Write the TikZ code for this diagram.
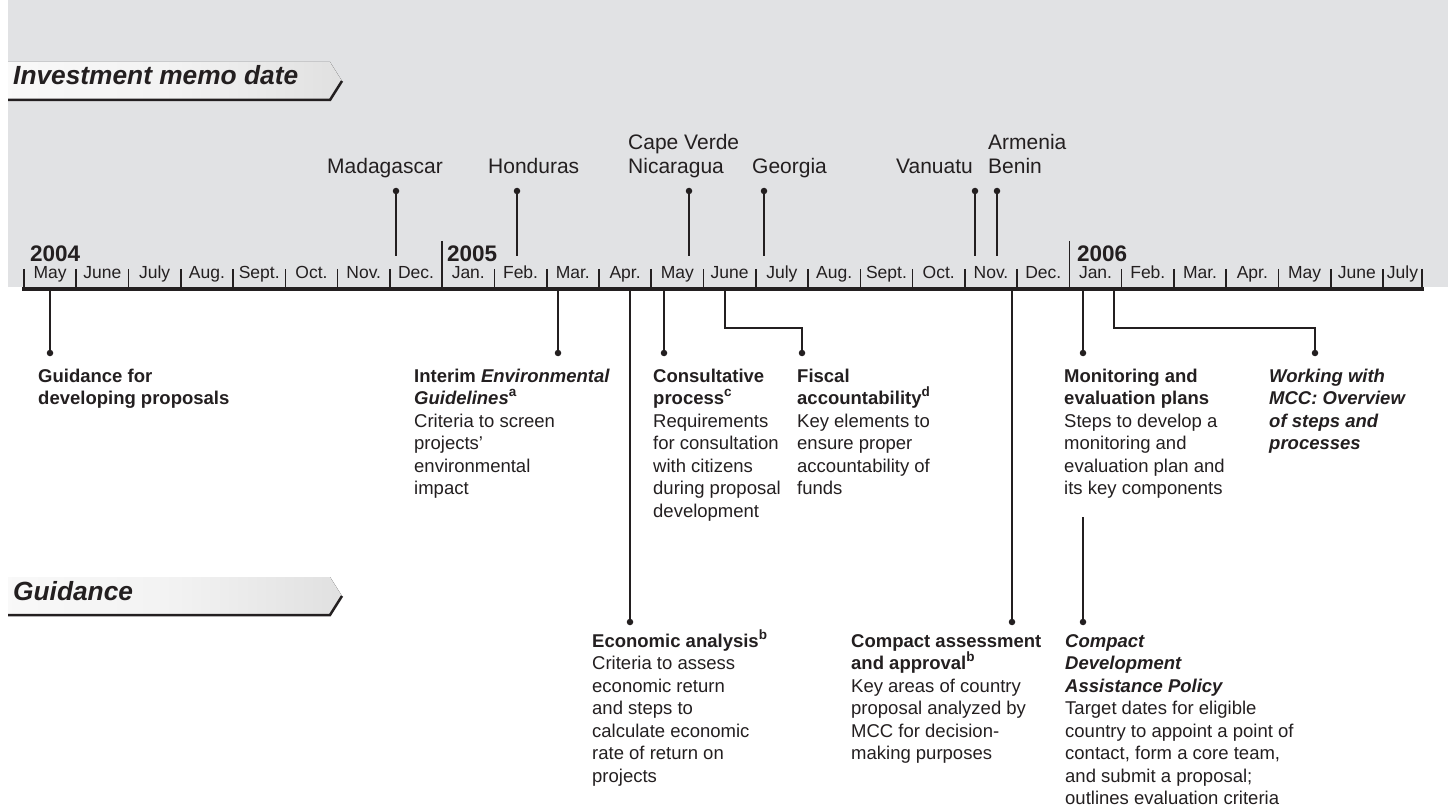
\documentclass[tikz,border=0pt]{standalone}
\usepackage{fontspec}
\setmainfont{Liberation Sans}
\definecolor{ink}{HTML}{231F20}
\definecolor{bggray}{HTML}{E1E2E4}
\pgfdeclarehorizontalshading{bannershade}{100bp}{color(0bp)=(white); color(50bp)=(white!95!black); color(82bp)=(white!86!black); color(100bp)=(white!64!black)}
\tikzset{
  dot/.style={circle, fill=ink, inner sep=0pt, minimum size=6.5pt},
  conn/.style={draw=ink, line width=1.3pt},
  tickmark/.style={draw=ink, line width=1.6pt},
  country/.style={anchor=north west, inner sep=0pt, align=left, text=ink, font=\fontsize{21}{24}\selectfont},
  month/.style={anchor=base, inner sep=0pt, text=ink, font=\fontsize{17.5}{21}\selectfont},
  yearlbl/.style={anchor=base west, inner sep=0pt, text=ink, font=\fontsize{22.5}{26}\selectfont\bfseries},
  desc/.style={anchor=north west, inner sep=0pt, align=left, text=ink, font=\fontsize{18.5}{22.5}\selectfont},
  bannertxt/.style={anchor=base west, inner sep=0pt, text=ink, font=\fontsize{26.3}{30}\selectfont\bfseries\itshape},
  bannershape/.style={shading=bannershade},
  bannerline/.style={draw=ink, line width=2.5pt},
}
\newcommand{\supmark}[1]{\smash{\raisebox{0.42em}{\fontsize{13.5}{13.5}\selectfont #1}}}
\begin{document}
\begin{tikzpicture}[x=1pt,y=-1pt]
\useasboundingbox (0,0) rectangle (1448,810);
\fill[white] (0,0) rectangle (1448,810);
\fill[bggray] (8,0) rectangle (1448,287);

% banners
\fill[bannershape] (8,62) -- (330,62) -- (342,81) -- (330,100) -- (8,100) -- cycle;
\draw[bannerline] (8,100) -- (330,100) -- (342,81);
\node[bannertxt] (invTxt) at (13,85) {Investment memo date};
\fill[bannershape] (8,577) -- (330,577) -- (342,596) -- (330,615) -- (8,615) -- cycle;
\draw[bannerline] (8,615) -- (330,615) -- (342,596);
\node[bannertxt] (guiTxt) at (13,600) {Guidance};

% axis
\foreach \k in {0,...,26} \draw[tickmark] (24+52.27*\k,269) -- (24+52.27*\k,289);
\draw[tickmark] (1422,269) -- (1422,289);
\draw[tickmark] (442.2,241) -- (442.2,289);
\draw[tickmark] (1069.4,241) -- (1069.4,289);
\draw[draw=ink, line width=4pt] (22,289) -- (1423.5,289);

\foreach \m [count=\i from 0] in {May,June,July,Aug.,Sept.,Oct.,Nov.,Dec.,Jan.,Feb.,Mar.,Apr.,May,June,July,Aug.,Sept.,Oct.,Nov.,Dec.,Jan.,Feb.,Mar.,Apr.,May,June}
  \node[month] (m\i) at (24+52.27*\i+26.135,279) {\m};
\node[month] (m26) at (1402.5,279) {July};

\node[yearlbl] (y2004) at (30,262) {2004};
\node[yearlbl] (y2005) at (447,262) {2005};
\node[yearlbl] (y2006) at (1077,262) {2006};

% countries
\node[country] (madL) at (327,156.2) {\strut Madagascar};
\node[country] (honL) at (488,156.2) {\strut Honduras};
\node[country] (cvL) at (628,132.2) {\strut Cape Verde\\Nicaragua};
\node[country] (geoL) at (752,156.2) {\strut Georgia};
\node[country,anchor=north east] (vanL) at (973,156.2) {\strut Vanuatu};
\node[country] (armL) at (988,132.2) {\strut Armenia\\Benin};

\foreach \n/\x in {mad/396,hon/517,cv/689,geo/764,van/975,arm/997}{
  \node[dot] (\n-D) at (\x,191) {};
  \coordinate (\n-A) at (\x,256);
  \draw[conn] (\n-A) -- (\n-D);
}

% guidance markers
\foreach \n/\x/\y in {gdp/50/353,env/558/353,con/664/353,mon/1083/353,eco/630/622,cas/1012/622}{
  \coordinate (\n-A) at (\x,291);
  \node[dot] (\n-D) at (\x,\y) {};
  \draw[conn] (\n-A) -- (\n-D);
}
\coordinate (fis-A) at (725,291);
\coordinate (fis-K) at (725,328);
\node[dot] (fis-D) at (802,353) {};
\draw[conn] (fis-A) -- (fis-K) -| (fis-D);
\coordinate (wrk-A) at (1114,291);
\coordinate (wrk-K) at (1114,328);
\node[dot] (wrk-D) at (1315,353) {};
\draw[conn] (wrk-A) -- (wrk-K) -| (wrk-D);
\coordinate (cdp-A) at (1083,517);
\node[dot] (cdp-D) at (1083,622) {};
\draw[conn] (cdp-A) -- (cdp-D);

% descriptions
\node[desc] (gdpT) at (38,366.25) {\strut\textbf{Guidance for}\\\textbf{developing proposals}};
\node[desc] (envT) at (414,366.25) {\strut\textbf{Interim \textit{Environmental}}\\\textbf{\textit{Guidelines}\supmark{a}}\\Criteria to screen\\projects'\\environmental\\impact};
\node[desc] (conT) at (653,366.25) {\strut\textbf{Consultative}\\\textbf{process\supmark{c}}\\Requirements\\for consultation\\with citizens\\during proposal\\development};
\node[desc] (fisT) at (797,366.25) {\strut\textbf{Fiscal}\\\textbf{accountability\supmark{d}}\\Key elements to\\ensure proper\\accountability of\\funds};
\node[desc] (monT) at (1064,366.25) {\strut\textbf{Monitoring and}\\\textbf{evaluation plans}\\Steps to develop a\\monitoring and\\evaluation plan and\\its key components};
\node[desc] (wrkT) at (1269,366.25) {\strut\textbf{\textit{Working with}}\\\textbf{\textit{MCC: Overview}}\\\textbf{\textit{of steps and}}\\\textbf{\textit{processes}}};
\node[desc] (ecoT) at (592,631.25) {\strut\textbf{Economic analysis\supmark{b}}\\Criteria to assess\\economic return\\and steps to\\calculate economic\\rate of return on\\projects};
\node[desc] (casT) at (851,631.25) {\strut\textbf{Compact assessment}\\\textbf{and approval\supmark{b}}\\Key areas of country\\proposal analyzed by\\MCC for decision-\\making purposes};
\node[desc] (cdpT) at (1065,631.25) {\strut\textbf{\textit{Compact}}\\\textbf{\textit{Development}}\\\textbf{\textit{Assistance Policy}}\\Target dates for eligible\\country to appoint a point of\\contact, form a core team,\\and submit a proposal;\\outlines evaluation criteria};
\end{tikzpicture}
\end{document}
